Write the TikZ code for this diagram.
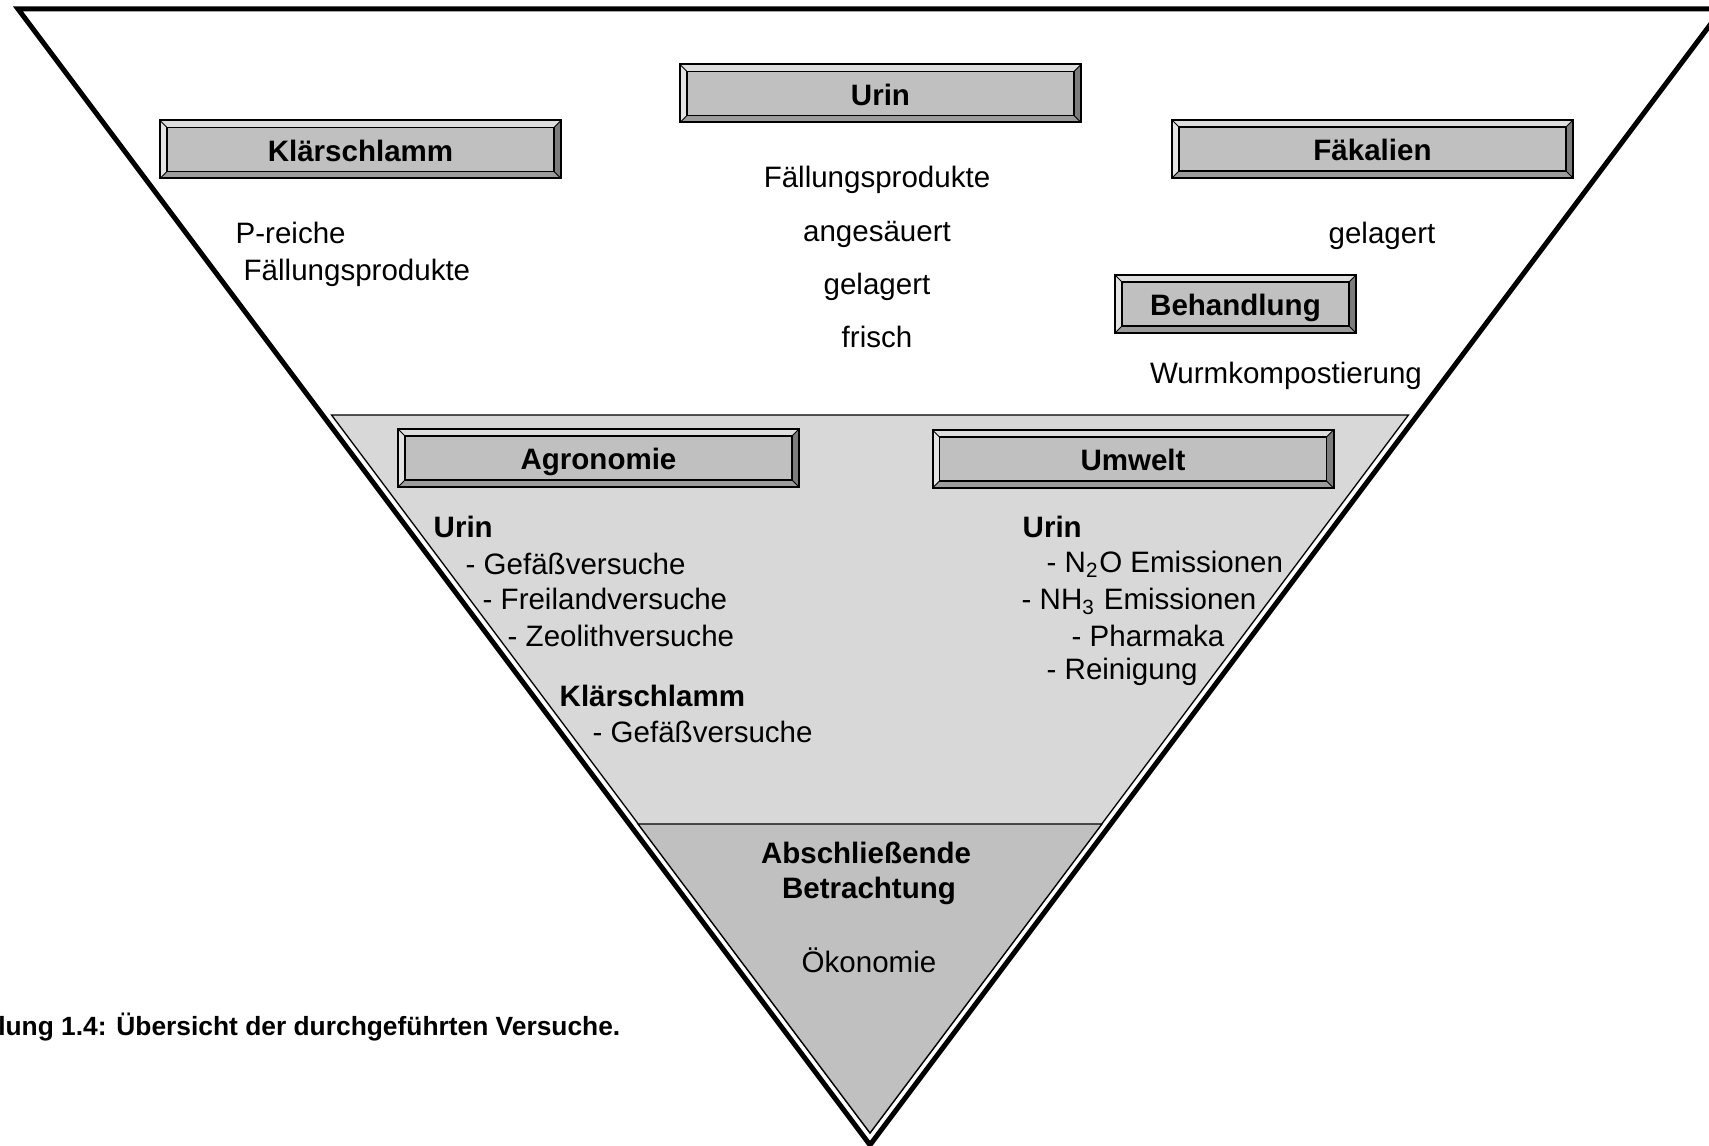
\documentclass[tikz,border=0pt]{standalone}
\usepackage{fontspec}
\setmainfont{Liberation Sans}
\usepackage{xcolor}
\usepackage{tikz}
\usetikzlibrary{calc,positioning}

\definecolor{boxgray}{HTML}{C0C0C0}
\definecolor{bevtop}{HTML}{DEDEDE}
\definecolor{bevleft}{HTML}{E4E4E4}
\definecolor{bevbottom}{HTML}{9C9C9C}
\definecolor{bevright}{HTML}{7C7C7C}
\definecolor{midgray}{HTML}{D8D8D8}
\definecolor{tipgray}{HTML}{C0C0C0}

% raised frame round a box node
\newcommand{\bevel}[1]{%
  \fill[bevtop] (#1.north west) -- (#1.north east) -- ($(#1.north east)+(-7,7)$) -- ($(#1.north west)+(7,7)$) -- cycle;
  \fill[bevleft] (#1.north west) -- ($(#1.north west)+(7,7)$) -- ($(#1.south west)+(7,-7)$) -- (#1.south west) -- cycle;
  \fill[bevbottom] (#1.south west) -- ($(#1.south west)+(7,-7)$) -- ($(#1.south east)+(-7,-7)$) -- (#1.south east) -- cycle;
  \fill[bevright] (#1.south east) -- ($(#1.south east)+(-7,-7)$) -- ($(#1.north east)+(-7,7)$) -- (#1.north east) -- cycle;
  \draw[line width=0.08mm] (#1.north west) -- ++(7,7) (#1.north east) -- ++(-7,7)
    (#1.south west) -- ++(7,-7) (#1.south east) -- ++(-7,-7);
  \draw[line width=0.13mm] ($(#1.north west)+(7,7)$) rectangle ($(#1.south east)+(-7,-7)$);
  \draw[line width=0.2mm] (#1.north west) rectangle (#1.south east);
}

\tikzset{
  bevelbox/.style={fill=boxgray, inner sep=0, outer sep=0, minimum width=40.1mm,
    minimum height=5.8mm, text height=2.4mm, text depth=0mm,
    font=\fontsize{8.4}{10}\selectfont\bfseries},
  plain/.style={inner sep=0, font=\fontsize{8.4}{10}\selectfont},
  heading/.style={inner sep=0, font=\fontsize{8.4}{10}\selectfont\bfseries},
  caption/.style={inner sep=0, font=\fontsize{7.5}{9}\selectfont\bfseries}
}

\begin{document}
\begin{tikzpicture}[x=0.1mm, y=-0.1mm]
        \useasboundingbox (0,0) rectangle (1709,1146);
        \fill[white] (0,0) rectangle (1709,1146);

        % Triangles
        \coordinate (otl) at (18,9);
        \coordinate (otr) at (1722,9);
        \coordinate (obot) at (870,1145);
        \coordinate (itl) at (331.5,415);
        \coordinate (itr) at (1408.5,415);
        \coordinate (ibot) at (870,1133);
        \coordinate (btl) at (638,824);
        \coordinate (btr) at (1102,824);
        \draw[line width=0.5mm] (otl) -- (otr) -- (obot) -- cycle;
        \draw[fill=midgray, line width=0.13mm] (itl) -- (itr) -- (ibot) -- cycle;
        \draw[fill=tipgray, line width=0.13mm] (btl) -- (btr) -- (ibot) -- cycle;

        % Materials
        \node[bevelbox] (klaer) at (360.5,149.5) {Klärschlamm};
        \bevel{klaer}
        \node[bevelbox] (urin) at (880.5,93.5) {Urin};
        \bevel{urin}
        \node[bevelbox] (faek) at (1372.5,149) {Fäkalien};
        \bevel{faek}
        \node[bevelbox, minimum width=24.1mm] (behand) at (1235.5,304) {Behandlung};
        \bevel{behand}

        \node[plain, anchor=base west] (preiche) at (235,244) {P-reiche};
        \node[plain, anchor=base west] (pfaell) at (243,281) {Fällungsprodukte};
        \node[plain, anchor=base] (ufaell) at (877,188) {Fällungsprodukte};
        \node[plain, anchor=base] (usauer) at (877,242) {angesäuert};
        \node[plain, anchor=base] (ulager) at (877,295) {gelagert};
        \node[plain, anchor=base] (ufrisch) at (877,348) {frisch};
        \node[plain, anchor=base] (flager) at (1382,244) {gelagert};
        \node[plain, anchor=base] (wurm) at (1286,384) {Wurmkompostierung};

        % Agronomie
        \node[bevelbox] (agro) at (598.5,458) {Agronomie};
        \bevel{agro}
        \node[heading, anchor=base west] (aurin) at (433,538) {Urin};
        \node[plain, anchor=base west] (agef) at (465,575) {- Gefäßversuche};
        \node[plain, anchor=base west] (afrei) at (482,610) {- Freilandversuche};
        \node[plain, anchor=base west] (azeo) at (507,647) {- Zeolithversuche};
        \node[heading, anchor=base west] (aklaer) at (559,707) {Klärschlamm};
        \node[plain, anchor=base west] (akgef) at (592,743) {- Gefäßversuche};

        % Umwelt
        \node[bevelbox] (umw) at (1133,459) {Umwelt};
        \bevel{umw}
        \node[heading, anchor=base west] (uurin) at (1022,538) {Urin};
        \node[plain, anchor=base west] (un2o) at (1046,573) {- N\textsubscript{2}O Emissionen};
        \node[plain, anchor=base west] (unh3) at (1021,610) {- NH\textsubscript{3} Emissionen};
        \node[plain, anchor=base west] (upharm) at (1071,647) {- Pharmaka};
        \node[plain, anchor=base west] (ureinig) at (1046,680) {- Reinigung};

        % Tip
        \node[heading, anchor=base] (absch) at (866,864) {Abschließende};
        \node[heading, anchor=base] (betr) at (869,899) {Betrachtung};
        \node[plain, anchor=base] (oeko) at (869,973) {Ökonomie};

        \node[caption, anchor=base east] (capt) at (621,1036) {lung 1.4: Übersicht der durchgeführten Versuche.};
\end{tikzpicture}
\end{document}
